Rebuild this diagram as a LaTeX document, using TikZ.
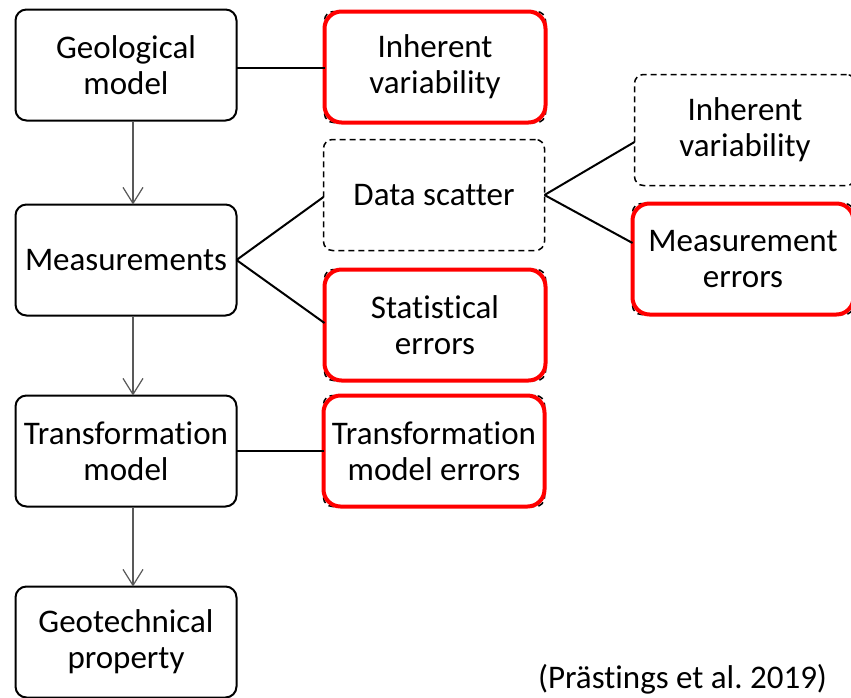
\documentclass[tikz,border=0pt]{standalone}
\usepackage{fontspec}
\setmainfont[Ligatures=NoCommon]{Carlito}
\usetikzlibrary{arrows.meta,calc}
\frenchspacing
\begin{document}
\begin{tikzpicture}[x=1pt,y=-1pt,
  every node/.style={font=\fontsize{33}{36}\selectfont, align=center, outer sep=0pt, inner sep=2pt},
  mainbox/.style={draw=black, line width=2pt, rounded corners=11pt, minimum width=221pt, minimum height=111pt, fill=white},
  dashbox/.style={draw=black, line width=1.5pt, dash pattern=on 6pt off 4pt, rounded corners=9pt, minimum width=221pt, minimum height=111pt},
  redline/.style={draw=red, line width=4pt, rounded corners=17pt},
  flow/.style={draw=black!65, line width=1.2pt, -{Straight Barb[length=16pt,width=20pt,line width=1.2pt]}},
  link/.style={draw=black, line width=2pt}]
\useasboundingbox (0,0) rectangle (851,697);

% left column
\node[mainbox] (geo) at (126,65) {Geological\\model};
\node[mainbox] (meas) at (126,260) {Measurements};
\node[mainbox] (trans) at (126,451) {Transformation\\model};
\node[mainbox] (prop) at (126,642) {Geotechnical\\property};

% middle column
\node[dashbox] (iv1) at (435,67) {Inherent\\variability};
\draw[redline] (iv1.south west) rectangle (iv1.north east);
\node[dashbox] (ds) at (434,195) {Data scatter};
\node[dashbox] (se) at (435,325) {Statistical\\errors};
\draw[redline] (se.south west) rectangle (se.north east);
\node[dashbox] (tme) at (434,451) {Transformation\\model errors};
\draw[redline] (tme.south west) rectangle (tme.north east);

% right column
\node[dashbox] (iv2) at (745,130) {Inherent\\variability};
\node[dashbox] (me) at (743,259) {Measurement\\errors};
\draw[redline] (me.south west) rectangle (me.north east);

% flow arrows
\draw[flow] ($(geo.south)+(7,0)$) -- ($(meas.north)+(7,0)$);
\draw[flow] ($(meas.south)+(7,0)$) -- ($(trans.north)+(7,0)$);
\draw[flow] ($(trans.south)+(7,0)$) -- ($(prop.north)+(7,0)$);

% links
\coordinate (geoR) at ($(geo.east)+(0,3)$);
\draw[link] (geoR) -- (geoR -| iv1.west);
\draw[link] (meas.east) -- ($(ds.west)+(0,2)$);
\draw[link] (meas.east) -- ($(se.west)+(0,-2)$);
\draw[link] (ds.east) -- ($(iv2.west)+(0,12)$);
\draw[link] (ds.east) -- ($(me.west)+(0,-16)$);
\draw[link] (trans.east) -- (tme.west);

% citation
\node[anchor=east] (cite) at (829,679) {(Prästings et al. 2019)};
\end{tikzpicture}
\end{document}
